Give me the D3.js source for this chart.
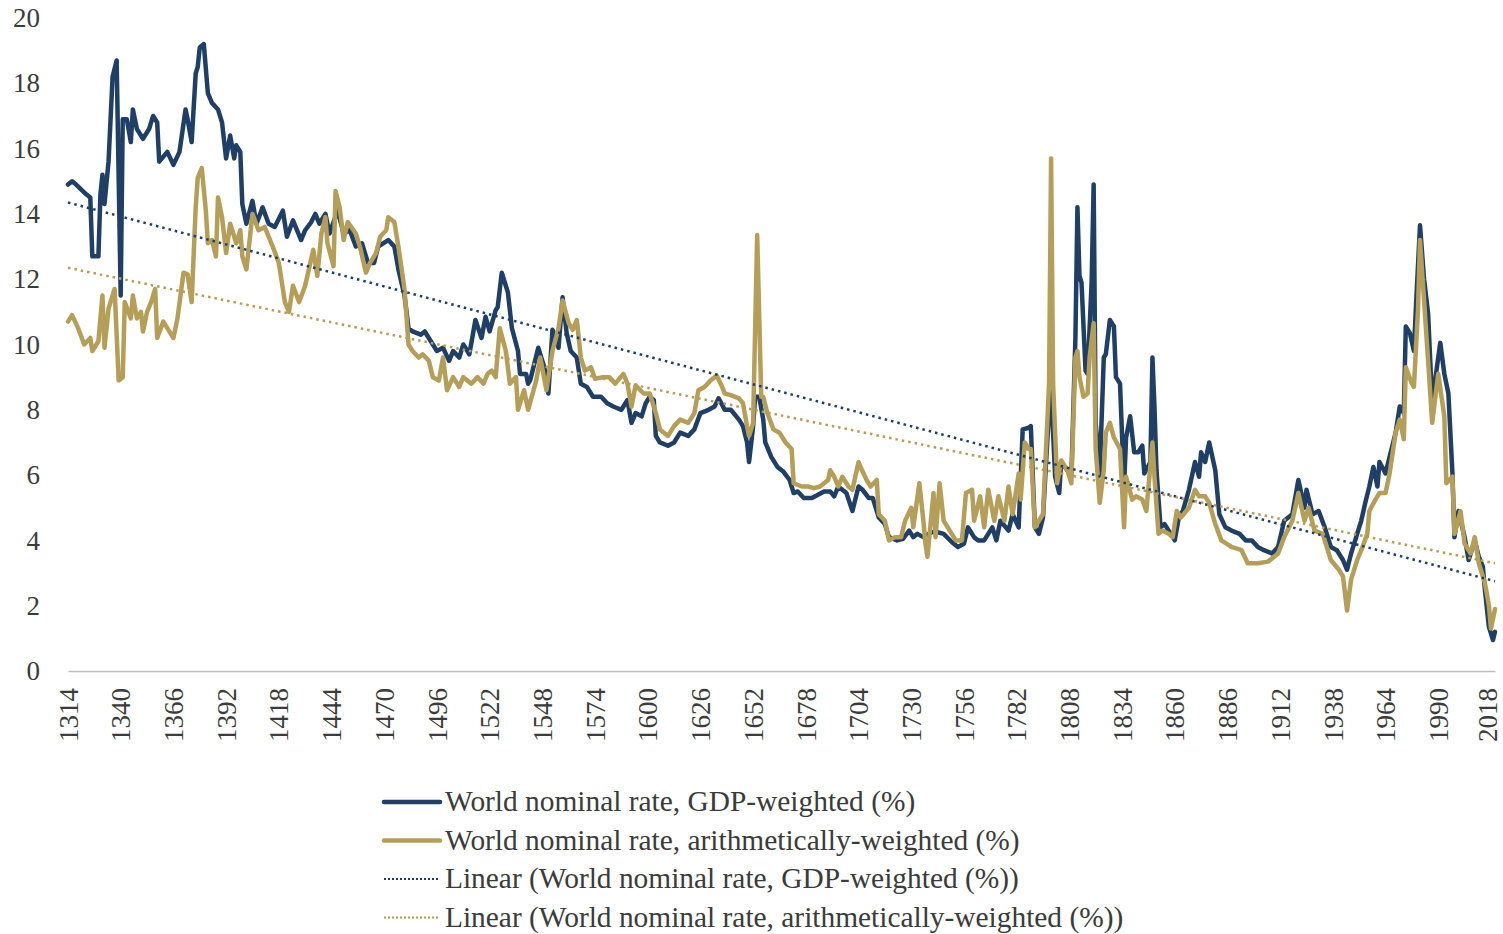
<!DOCTYPE html>
<html>
<head>
<meta charset="utf-8">
<script src="https://cdn.jsdelivr.net/npm/d3@7"></script>
<style>
  html, body { margin: 0; padding: 0; background: #ffffff; }
  svg { display: block; }
  text { font-family: "Liberation Serif", "DejaVu Serif", serif; fill: #3b3b3b; }
</style>
</head>
<body>
<svg id="chart" width="1503" height="934"></svg>
<script>
// World nominal interest rate (%), GDP-weighted: [year, rate]
const gdpWeighted = [
  [1314,14.9],[1316,15.0],[1318,14.9],[1323,14.6],[1325,14.5],[1326,12.7],[1329,12.7],[1330,14.6],
  [1331,15.2],[1332,14.3],[1334,15.6],[1336,18.2],[1338,18.7],[1340,11.5],[1341,16.9],[1343,16.9],
  [1345,16.2],[1346,17.2],[1348,16.6],[1351,16.3],[1354,16.6],[1356,17.0],[1358,16.8],[1359,15.6],
  [1363,15.9],[1366,15.5],[1369,15.9],[1372,17.2],[1373,16.9],[1375,16.2],[1377,18.3],[1378,18.5],
  [1379,19.1],[1381,19.2],[1383,17.7],[1385,17.4],[1388,17.2],[1390,16.8],[1392,15.7],[1394,16.4],
  [1396,15.7],[1397,16.1],[1399,15.9],[1400,14.3],[1402,13.7],[1405,14.4],[1407,13.7],[1410,14.2],
  [1413,13.7],[1416,13.6],[1420,14.1],[1422,13.3],[1425,13.8],[1429,13.2],[1431,13.5],[1434,13.75],
  [1436,14.0],[1438,13.7],[1441,14.0],[1443,13.4],[1447,14.1],[1450,13.4],[1453,13.5],[1456,13.0],
  [1459,13.1],[1462,12.5],[1465,12.5],[1467,13.0],[1472,13.2],[1475,13.0],[1477,12.3],[1480,11.5],
  [1482,10.5],[1484,10.4],[1488,10.3],[1490,10.4],[1493,10.1],[1496,9.8],[1499,9.9],[1502,9.5],
  [1504,9.8],[1507,9.6],[1509,10.0],[1512,9.7],[1515,10.75],[1518,10.2],[1520,10.85],[1522,10.4],
  [1525,11.05],[1526,11.15],[1528,12.2],[1530,11.8],[1531,11.6],[1533,10.5],[1536,9.8],[1537,9.1],
  [1540,9.1],[1541,8.8],[1542,8.9],[1544,9.4],[1546,9.9],[1549,9.3],[1551,8.5],[1553,10.45],
  [1556,9.9],[1558,11.45],[1560,10.35],[1562,9.8],[1565,9.6],[1567,8.8],[1570,8.7],[1573,8.4],
  [1577,8.4],[1580,8.2],[1583,8.1],[1587,8.0],[1590,8.3],[1592,7.6],[1594,7.9],[1597,7.8],
  [1599,8.2],[1601,8.4],[1603,8.3],[1604,7.2],[1606,7.0],[1610,6.9],[1613,7.0],[1616,7.3],
  [1620,7.2],[1623,7.4],[1626,7.9],[1630,8.0],[1633,8.1],[1635,8.35],[1638,8.0],[1641,8.0],
  [1645,7.7],[1647,7.5],[1649,7.0],[1650,6.4],[1652,7.5],[1653,8.4],[1655,8.4],[1657,7.7],
  [1658,7.0],[1661,6.55],[1664,6.25],[1667,6.1],[1670,5.85],[1672,5.45],[1674,5.5],[1677,5.3],
  [1681,5.3],[1684,5.4],[1687,5.5],[1690,5.5],[1692,5.35],[1694,5.65],[1698,5.45],[1701,4.9],
  [1704,5.65],[1706,5.55],[1709,5.3],[1711,5.3],[1714,4.7],[1717,4.5],[1719,4.1],[1723,4.0],
  [1726,4.05],[1729,4.3],[1731,4.1],[1733,4.2],[1736,4.1],[1740,4.25],[1743,4.25],[1746,4.2],
  [1750,3.95],[1753,3.8],[1756,3.9],[1758,4.4],[1761,4.1],[1763,4.0],[1766,4.0],[1770,4.4],
  [1772,4.0],[1774,4.6],[1778,4.3],[1780,4.8],[1783,4.4],[1785,7.4],[1788,7.45],[1789,7.5],
  [1791,4.4],[1793,4.2],[1795,4.7],[1798,8.0],[1799,8.6],[1801,5.95],[1803,5.45],[1804,6.4],
  [1807,6.15],[1809,5.95],[1811,10.2],[1812,14.2],[1813,12.1],[1814,11.9],[1816,9.2],[1817,9.1],
  [1819,11.9],[1820,14.9],[1821,7.6],[1823,6.05],[1825,9.6],[1826,9.7],[1828,10.75],[1830,10.55],
  [1831,9.0],[1833,8.8],[1835,5.65],[1836,7.15],[1838,7.8],[1840,6.7],[1842,6.7],[1844,6.9],
  [1845,6.05],[1848,6.4],[1849,9.6],[1850,8.1],[1851,6.15],[1853,4.4],[1855,4.5],[1857,4.3],
  [1860,4.0],[1862,4.7],[1864,4.9],[1867,5.55],[1870,6.4],[1872,5.95],[1873,6.7],[1875,6.4],
  [1877,7.0],[1880,6.15],[1882,4.8],[1885,4.4],[1888,4.3],[1892,4.2],[1895,4.0],[1898,4.0],
  [1901,3.8],[1904,3.7],[1908,3.6],[1911,3.8],[1914,4.6],[1918,4.8],[1921,5.85],[1924,5.0],
  [1925,5.55],[1928,4.8],[1931,4.9],[1934,4.4],[1937,3.8],[1940,3.7],[1943,3.4],[1945,3.1],
  [1947,3.6],[1950,4.2],[1952,4.6],[1954,5.15],[1956,5.65],[1958,6.25],[1960,5.65],[1961,6.4],
  [1964,6.05],[1966,6.55],[1969,7.3],[1971,8.1],[1973,7.9],[1974,10.55],[1976,10.35],[1978,9.8],
  [1979,11.15],[1981,13.65],[1983,12.0],[1985,10.95],[1987,8.2],[1988,8.7],[1991,10.05],[1993,9.1],
  [1995,8.5],[1997,6.05],[1998,4.1],[2000,4.9],[2003,4.1],[2005,3.4],[2008,4.0],[2010,3.5],
  [2012,3.2],[2013,2.5],[2015,1.35],[2017,0.95],[2018,1.2]
];

// World nominal interest rate (%), arithmetically weighted: [year, rate]
const arithWeighted = [
  [1314,10.7],[1316,10.9],[1319,10.5],[1322,10.0],[1325,10.2],[1326,9.8],[1329,10.1],[1331,11.5],
  [1332,9.9],[1334,11.1],[1337,11.7],[1339,8.9],[1341,9.0],[1342,11.3],[1345,10.8],[1346,11.5],
  [1348,10.8],[1350,11.0],[1351,10.4],[1353,11.0],[1355,11.3],[1357,11.7],[1358,10.2],[1361,10.7],
  [1363,10.5],[1366,10.2],[1368,10.8],[1371,12.2],[1373,12.15],[1375,11.3],[1377,14.2],[1378,15.1],
  [1380,15.4],[1382,14.1],[1383,13.1],[1385,13.2],[1387,12.7],[1388,14.5],[1390,13.9],[1392,12.8],
  [1394,13.7],[1397,13.1],[1399,13.5],[1400,12.7],[1402,12.3],[1405,14.0],[1408,13.5],[1411,13.6],
  [1415,13.0],[1418,12.5],[1421,11.3],[1423,11.0],[1425,11.8],[1428,11.3],[1431,11.8],[1435,12.9],
  [1437,12.1],[1439,13.4],[1441,13.9],[1442,13.1],[1445,12.4],[1446,14.7],[1448,14.2],[1450,13.2],
  [1452,13.75],[1456,13.4],[1458,13.0],[1461,12.2],[1463,12.5],[1466,12.8],[1468,13.3],[1471,13.5],
  [1472,13.9],[1475,13.75],[1477,13.0],[1480,11.7],[1482,10.0],[1484,9.8],[1487,9.6],[1489,9.7],
  [1492,9.5],[1494,9.0],[1497,8.9],[1499,9.6],[1501,8.6],[1504,9.0],[1507,8.7],[1509,9.0],
  [1513,8.8],[1516,9.0],[1519,8.8],[1521,9.1],[1523,9.2],[1525,9.0],[1527,10.5],[1530,9.8],
  [1532,8.8],[1535,9.0],[1536,8.0],[1539,8.6],[1541,8.0],[1545,8.9],[1547,9.6],[1550,8.6],
  [1553,9.8],[1556,10.5],[1558,11.35],[1561,10.65],[1563,10.45],[1565,10.75],[1567,9.6],[1569,9.2],
  [1572,9.3],[1574,8.95],[1578,9.0],[1581,9.0],[1584,8.8],[1588,9.1],[1590,8.8],[1592,8.1],
  [1594,8.75],[1598,8.5],[1601,8.5],[1604,7.9],[1606,7.4],[1610,7.2],[1613,7.5],[1616,7.7],
  [1620,7.6],[1623,7.9],[1625,8.6],[1628,8.7],[1631,8.9],[1634,9.05],[1636,8.8],[1638,8.5],
  [1641,8.45],[1645,8.35],[1647,8.2],[1649,7.5],[1650,7.2],[1652,7.6],[1654,13.35],[1656,8.4],
  [1657,8.4],[1659,7.9],[1662,7.4],[1665,7.3],[1668,7.0],[1671,6.8],[1672,5.75],[1676,5.65],
  [1679,5.65],[1682,5.6],[1685,5.65],[1689,5.85],[1690,6.15],[1692,5.95],[1694,5.65],[1696,5.95],
  [1699,5.65],[1701,5.55],[1704,6.4],[1705,6.25],[1708,5.85],[1710,5.65],[1713,5.85],[1714,4.8],
  [1717,4.6],[1719,4.0],[1722,4.1],[1725,4.1],[1727,4.6],[1730,5.0],[1731,4.4],[1734,5.75],
  [1736,4.6],[1737,3.9],[1738,3.5],[1741,5.45],[1742,4.1],[1744,5.75],[1746,4.6],[1750,4.2],
  [1752,4.0],[1755,4.0],[1757,5.45],[1760,5.55],[1761,4.6],[1764,5.35],[1766,4.4],[1768,5.55],
  [1771,4.6],[1773,5.35],[1776,4.6],[1778,5.65],[1780,4.8],[1783,6.05],[1784,5.25],[1786,7.0],
  [1788,6.8],[1789,6.8],[1791,4.4],[1793,4.6],[1795,4.8],[1798,8.8],[1799,15.7],[1800,8.8],
  [1802,5.75],[1804,6.45],[1807,6.15],[1809,5.75],[1811,9.6],[1812,9.8],[1813,9.0],[1815,8.4],
  [1817,8.5],[1818,9.6],[1820,10.65],[1821,6.8],[1823,5.15],[1825,6.15],[1826,7.3],[1828,7.6],
  [1830,7.15],[1833,6.8],[1835,4.4],[1836,5.95],[1839,5.25],[1841,5.35],[1844,5.25],[1846,4.9],
  [1849,7.0],[1850,5.95],[1852,4.2],[1854,4.3],[1857,4.2],[1859,4.1],[1861,4.9],[1863,4.7],
  [1867,5.0],[1870,5.55],[1872,5.35],[1875,5.35],[1877,5.15],[1880,4.5],[1883,4.0],[1888,3.8],
  [1893,3.7],[1896,3.3],[1901,3.3],[1906,3.35],[1911,3.6],[1914,4.1],[1918,4.6],[1921,5.45],
  [1924,4.6],[1926,5.0],[1929,4.3],[1933,4.2],[1935,3.8],[1937,3.4],[1941,3.1],[1943,2.9],
  [1945,1.85],[1947,2.8],[1950,3.4],[1952,3.7],[1955,4.2],[1956,4.9],[1959,5.25],[1961,5.45],
  [1964,5.45],[1966,6.05],[1969,7.3],[1971,7.7],[1973,7.1],[1974,9.3],[1977,8.8],[1978,8.7],
  [1980,11.05],[1981,13.2],[1983,11.35],[1985,9.5],[1987,7.6],[1988,8.1],[1990,9.1],[1993,7.8],
  [1994,5.75],[1997,5.95],[1998,4.2],[2001,4.9],[2003,3.9],[2006,3.6],[2008,4.1],[2010,3.3],
  [2013,2.7],[2015,2.0],[2016,1.3],[2018,1.9]
];

// Linear trend lines, start and end of the period: [year, rate]
const gdpTrend = [[1314,14.35],[2018,2.75]];
const arithTrend = [[1314,12.35],[2018,3.3]];

// Axis ticks
const xTickYears = [1314,1340,1366,1392,1418,1444,1470,1496,1522,1548,1574,1600,1626,1652,
  1678,1704,1730,1756,1782,1808,1834,1860,1886,1912,1938,1964,1990,2018];
const yTickValues = [0,2,4,6,8,10,12,14,16,18,20];

// Legend entries
const legendLabels = [
  "World nominal rate, GDP-weighted (%)",
  "World nominal rate, arithmetically-weighted (%)",
  "Linear (World nominal rate, GDP-weighted (%))",
  "Linear (World nominal rate, arithmetically-weighted (%))"
];

const BLUE = "#1f3f66";
const GOLD = "#b49e58";

const svg = d3.select("#chart");

const x = d3.scaleLinear().domain([1314, 2018]).range([68, 1495]);
const y = d3.scaleLinear().domain([0, 20]).range([671, 18]);

// y axis: labels only
const yAxis = svg.append("g")
  .attr("transform", "translate(44,0)")
  .call(d3.axisLeft(y).tickValues(yTickValues).tickSize(0).tickPadding(4).tickFormat(d3.format("d")));
yAxis.select(".domain").remove();
yAxis.selectAll("text")
  .style("font-family", '"Liberation Serif", serif')
  .style("font-size", "27px")
  .attr("fill", "#3b3b3b");

// x axis: baseline and rotated year labels
const xAxis = svg.append("g")
  .attr("transform", `translate(0,${y(0)})`)
  .call(d3.axisBottom(x).tickValues(xTickYears).tickSize(0).tickFormat(d3.format("d")));
xAxis.select(".domain").attr("stroke", "#bfbfbf").attr("stroke-width", 1.5);
xAxis.selectAll("text")
  .style("font-family", '"Liberation Serif", serif')
  .style("font-size", "27px")
  .attr("fill", "#3b3b3b")
  .attr("text-anchor", "end")
  .attr("transform", "rotate(-90)")
  .attr("x", -17)
  .attr("y", 0)
  // last label sits against the right edge, nudge it inward
  .attr("dy", (d, i) => i === xTickYears.length - 1 ? "0.05em" : "0.34em");

const line = d3.line().x(d => x(d[0])).y(d => y(d[1]));

svg.append("path")
  .datum(gdpWeighted)
  .attr("d", line)
  .attr("fill", "none")
  .attr("stroke", BLUE)
  .attr("stroke-width", 4.5)
  .attr("stroke-linejoin", "round")
  .attr("stroke-linecap", "round");

svg.append("path")
  .datum(arithWeighted)
  .attr("d", line)
  .attr("fill", "none")
  .attr("stroke", GOLD)
  .attr("stroke-width", 4.5)
  .attr("stroke-linejoin", "round")
  .attr("stroke-linecap", "round");

svg.append("path")
  .datum(gdpTrend)
  .attr("d", line)
  .attr("fill", "none")
  .attr("stroke", BLUE)
  .attr("stroke-width", 2.5)
  .attr("stroke-dasharray", "2.5 4");

svg.append("path")
  .datum(arithTrend)
  .attr("d", line)
  .attr("fill", "none")
  .attr("stroke", GOLD)
  .attr("stroke-width", 2.5)
  .attr("stroke-dasharray", "2.5 4");

// Legend
const legendStyles = [
  { color: BLUE, width: 4.5, dash: null },
  { color: GOLD, width: 4.5, dash: null },
  { color: BLUE, width: 2, dash: "2 2" },
  { color: GOLD, width: 2, dash: "2 2" }
];
const legend = svg.append("g").attr("class", "legend");
legendLabels.forEach((label, i) => {
  const cy = 802 + i * 38.5;
  const st = legendStyles[i];
  const ln = legend.append("line")
    .attr("x1", 384).attr("x2", 440)
    .attr("y1", cy).attr("y2", cy)
    .attr("stroke", st.color)
    .attr("stroke-width", st.width)
    .attr("stroke-linecap", st.dash ? "butt" : "round");
  if (st.dash) ln.attr("stroke-dasharray", st.dash);
  legend.append("text")
    .attr("x", 445)
    .attr("y", cy)
    .attr("dy", "0.32em")
    .style("font-size", "29.4px")
    .attr("fill", "#2a2a2a")
    .text(label);
});
</script>
</body>
</html>
